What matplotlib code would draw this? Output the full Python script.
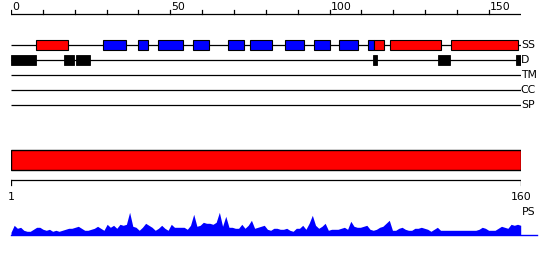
import matplotlib
matplotlib.use("Agg")
import matplotlib.pyplot as plt
from matplotlib.patches import Rectangle
import numpy as np

# ---------------- data ----------------
seq_len = 160
ruler_ticks = list(range(0, 151, 10))
ruler_labels = [0, 50, 100, 150]
track_names = ["SS", "D", "TM", "CC", "SP"]

# secondary structure: helices (red) and strands (blue), start/end positions
helix_start = [8, 114, 119, 138]
helix_end = [18, 117, 135, 159]
strand_start = [29, 40, 46, 57, 68, 75, 86, 95, 103, 112]
strand_end = [36, 43, 54, 62, 73, 82, 92, 100, 109, 114]

# disorder segments
dis_start = [0, 16.6, 20.5, 113.6, 134, 158.6]
dis_end = [7.8, 19.7, 24.7, 114.8, 137.8, 160]

# domain bar
domain_start = 1
domain_end = 160
domain_labels = ["1", "160"]

# PS profile, one value per residue 1..160
ps_values = [3, 10, 7, 8, 5, 4, 4, 6, 8, 8,
             6, 5, 6, 4, 5, 4, 5, 6, 7, 7,
             8, 9, 7, 5, 5, 6, 7, 9, 7, 5,
             11, 8, 10, 7, 11, 10, 11, 23, 9, 8,
             5, 8, 12, 10, 8, 5, 7, 10, 7, 5,
             11, 8, 8, 8, 8, 6, 10, 21, 9, 10,
             13, 12, 12, 11, 13, 23, 9, 19, 8, 8,
             7, 7, 11, 7, 10, 15, 7, 8, 9, 10,
             6, 5, 7, 7, 6, 6, 7, 5, 4, 7,
             7, 10, 6, 12, 20, 10, 7, 9, 12, 5,
             6, 6, 6, 7, 8, 6, 14, 9, 8, 8,
             9, 10, 6, 5, 6, 8, 9, 12, 15, 5,
             5, 7, 8, 6, 5, 5, 7, 7, 8, 7,
             6, 4, 6, 8, 5, 5, 5, 5, 5, 5,
             5, 5, 5, 5, 5, 5, 6, 8, 7, 5,
             5, 5, 7, 9, 8, 7, 11, 10, 11, 10]

RED = "#ff0000"
BLUE = "#0000ff"
FS = 7.8

W, H = 550, 260
fig = plt.figure(figsize=(W / 100, H / 100), dpi=100)

x0 = 11 / W
wx = 509.7 / W

# ---------------- top panel ----------------
ax = fig.add_axes([x0, 1 - 127.5 / H, wx, 127.5 / H])
ax.set_xlim(0, seq_len)
ax.set_ylim(5.5, -3)
ax.axis("off")

ruler_y = -31 / 15
ax.plot([0, seq_len], [ruler_y, ruler_y], color="black", lw=0.9, solid_capstyle="butt")
for t in ruler_ticks:
    ax.plot([t, t], [ruler_y, ruler_y - 0.26], color="black", lw=0.9)
for t in ruler_labels:
    ax.text(t + 0.3, ruler_y - 0.28, str(t), fontsize=FS, va="baseline", ha="left")

for i, name in enumerate(track_names):
    ax.plot([0, seq_len], [i, i], color="black", lw=0.9, solid_capstyle="butt", zorder=1)
    ax.text(seq_len + 0.05, i, name, fontsize=FS, va="center", ha="left")

ss_h = 0.32
for s, e in zip(strand_start, strand_end):
    ax.add_patch(Rectangle((s, -ss_h), e - s, 2 * ss_h, facecolor=BLUE,
                           edgecolor="black", lw=0.8, zorder=3))
for s, e in zip(helix_start, helix_end):
    ax.add_patch(Rectangle((s, -ss_h), e - s, 2 * ss_h, facecolor=RED,
                           edgecolor="black", lw=0.8, zorder=3))

d_h = 0.35
for s, e in zip(dis_start, dis_end):
    ax.add_patch(Rectangle((s, 1 - d_h), e - s, 2 * d_h, facecolor="black",
                           edgecolor="black", lw=0.6, zorder=3))

# ---------------- domain panel ----------------
bx = fig.add_axes([x0, 1 - 200 / H, wx, 60 / H])
bx.set_xlim(domain_start, domain_end)
bx.set_ylim(200, 140)
bx.axis("off")
bx.add_patch(Rectangle((domain_start, 150), domain_end - domain_start, 20.3,
                       facecolor=RED, edgecolor="black", lw=1.0, zorder=3))
bx.plot([domain_start, domain_end], [180.3, 180.3], color="black", lw=0.9)
for t in (domain_start, domain_end):
    bx.plot([t, t], [180.3, 184.5], color="black", lw=0.9)
bx.text(domain_start, 200, domain_labels[0], fontsize=FS, ha="center", va="baseline")
bx.text(domain_end, 200, domain_labels[1], fontsize=FS, ha="center", va="baseline")

# ---------------- PS profile ----------------
px = fig.add_axes([x0, 1 - 235.3 / H, wx, 30 / H])
px.set_xlim(domain_start, domain_end)
px.set_ylim(0, 30)
px.axis("off")
pos = np.arange(1, len(ps_values) + 1)
px.fill_between(pos, 0, ps_values, color=BLUE, lw=0)
px.plot([1, 165], [0, 0], color=BLUE, lw=1.0, clip_on=False)
px.text(domain_end + 0.4, 20.3, "PS", fontsize=FS, ha="left", va="baseline")

fig.savefig("out.png", dpi=100)
